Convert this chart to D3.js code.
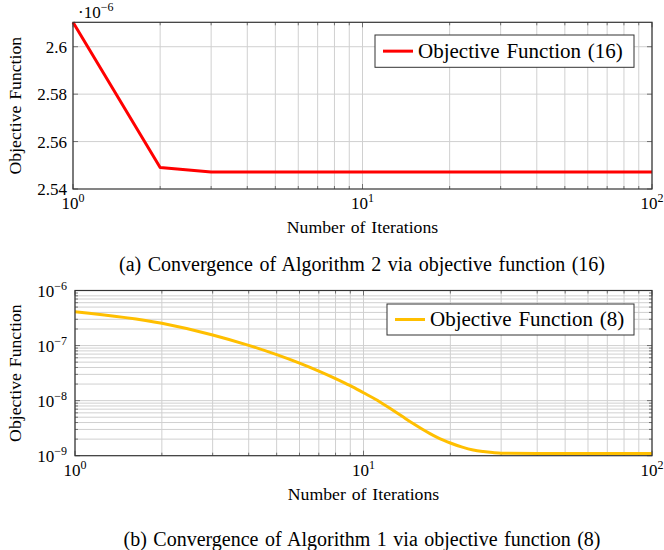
<!DOCTYPE html>
<html><head><meta charset="utf-8">
<script src="https://cdn.jsdelivr.net/npm/d3@7"></script>
<style>
body{margin:0;background:#fff;}
</style></head>
<body>
<svg id="c" width="664" height="550"></svg>
<script>
// ---- data ----
const iterA = [1, 2, 3, 4, 5, 10, 20, 50, 100];
const valA  = [2.6103, 2.5491, 2.5472, 2.5472, 2.5472, 2.5472, 2.5472, 2.5472, 2.5472]; // x1e-6
const yTicksA = [2.54, 2.56, 2.58, 2.6];
const yTickLabelsA = ["2.54", "2.56", "2.58", "2.6"];

const iterB = [1,2,3,4,5,6,7,8,9,10,11,12,13,14,15,16,17,18,19,20,22,24,26,28,30,40,50,60,70,80,90,100];
const valB  = [4.12e-7,2.54e-7,1.56e-7,1.01e-7,6.85e-8,4.81e-8,3.45e-8,2.52e-8,1.87e-8,1.39e-8,
               1.06e-8,8.0e-9,6.1e-9,4.7e-9,3.72e-9,3.02e-9,2.52e-9,2.16e-9,1.90e-9,1.70e-9,
               1.43e-9,1.27e-9,1.19e-9,1.14e-9,1.11e-9,1.10e-9,1.10e-9,1.10e-9,1.10e-9,1.10e-9,1.10e-9,1.10e-9];
const yDecadesB = [-9, -8, -7, -6];
const xDecades = [0, 1, 2];

const legendA = "Objective Function (16)";
const legendB = "Objective Function (8)";
const xLabel = "Number of Iterations";
const yLabel = "Objective Function";
const captionA = "(a) Convergence of Algorithm 2 via objective function (16)";
const captionB = "(b) Convergence of Algorithm 1 via objective function (8)";
const colorA = "#ff0000";
const colorB = "#ffbf00";

const FONT = "'Liberation Serif', 'Times New Roman', serif";
const svg = d3.select("#c");
const GRID = "#d0d0d0", FRAME = "#333";

function txt(sel){ return sel.append("text").style("font-family",FONT).attr("fill","#000"); }

function minorVals(lo, hi){ // 1..9 x 10^k
  const out=[];
  for(let k=lo;k<hi;k++) for(let m=1;m<10;m++) out.push(m*Math.pow(10,k));
  out.push(Math.pow(10,hi));
  return out;
}

function powLabel(g, x, y, exp, anchor){
  const t = txt(g).attr("x",x).attr("y",y).attr("text-anchor",anchor).style("font-size","17px");
  t.append("tspan").text("10");
  t.append("tspan").attr("dy",-7).style("font-size","12px").text(exp<0? "\u2212"+(-exp) : String(exp));
  return t;
}

function panel(o){
  const g = svg.append("g");
  const x = d3.scaleLog().domain([1,100]).range([o.L,o.R]);
  const y = o.y;
  const xs = minorVals(0,2);
  g.append("g").selectAll("line").data(xs).join("line")
    .attr("x1",d=>x(d)).attr("x2",d=>x(d)).attr("y1",o.T).attr("y2",o.B)
    .attr("stroke",GRID).attr("stroke-width",1);
  g.append("g").selectAll("line").data(o.yGrid).join("line")
    .attr("x1",o.L).attr("x2",o.R).attr("y1",d=>y(d)).attr("y2",d=>y(d))
    .attr("stroke",GRID).attr("stroke-width",1);
  const tk = g.append("g").attr("stroke","#555").attr("stroke-width",0.8);
  xs.forEach(d=>{
    const len = ([1,10,100].includes(d))?5:3;
    tk.append("line").attr("x1",x(d)).attr("x2",x(d)).attr("y1",o.B).attr("y2",o.B-len);
    tk.append("line").attr("x1",x(d)).attr("x2",x(d)).attr("y1",o.T).attr("y2",o.T+len);
  });
  o.yTicks.forEach(d=>{
    const len = o.isMajorY(d)?5:3;
    tk.append("line").attr("y1",y(d)).attr("y2",y(d)).attr("x1",o.L).attr("x2",o.L+len);
    tk.append("line").attr("y1",y(d)).attr("y2",y(d)).attr("x1",o.R).attr("x2",o.R-len);
  });
  g.append("path").datum(o.data)
    .attr("fill","none").attr("stroke",o.color).attr("stroke-width",3).attr("stroke-linejoin","round")
    .attr("d", d3.line().x(d=>x(d[0])).y(d=>y(d[1])).curve(o.curve));
  g.append("rect").attr("x",o.L).attr("y",o.T).attr("width",o.R-o.L).attr("height",o.B-o.T)
    .attr("fill","none").attr("stroke",FRAME).attr("stroke-width",1.2);
  xDecades.forEach(e=>powLabel(g, x(Math.pow(10,e)), o.B+20, e, "middle"));
  txt(g).attr("x",(o.L+o.R)/2).attr("y",o.B+44).attr("text-anchor","middle")
    .style("font-size","17.7px").style("word-spacing","1.5px").text(xLabel);
  txt(g).attr("transform",`translate(21,${(o.T+o.B)/2}) rotate(-90)`).attr("text-anchor","middle")
    .style("font-size","17.7px").style("word-spacing","1.5px").text(yLabel);
  const lg = g.append("g");
  lg.append("rect").attr("x",o.leg[0]).attr("y",o.leg[1]).attr("width",o.leg[2]-o.leg[0]).attr("height",o.leg[3]-o.leg[1])
    .attr("fill","#fff").attr("stroke",FRAME).attr("stroke-width",1);
  const ly = (o.leg[1]+o.leg[3])/2;
  lg.append("line").attr("x1",o.leg[0]+8).attr("x2",o.leg[0]+38).attr("y1",ly).attr("y2",ly)
    .attr("stroke",o.color).attr("stroke-width",3);
  txt(lg).attr("x",o.leg[0]+43).attr("y",ly+6.5).style("font-size","21px").style("word-spacing","1.5px").text(o.legend);
  txt(svg).attr("x",362).attr("y",o.capY).attr("text-anchor","middle").style("font-size","20px")
    .style("word-spacing","1.5px").text(o.caption);
  return {g,x,y};
}

// Panel A
const TA=22.3, BA=189;
const yA = d3.scaleLinear().domain([2.54,2.6103]).range([BA,TA]);
const pA = panel({L:73,R:652,T:TA,B:BA,y:yA,yGrid:yTicksA.slice(1),yTicks:yTicksA,isMajorY:()=>true,
  data:iterA.map((d,i)=>[d,valA[i]]),color:colorA,curve:d3.curveLinear,
  leg:[375,35,634,67.3],legend:legendA,caption:captionA,capY:271});
yTicksA.forEach((d,i)=>{
  txt(pA.g).attr("x",67).attr("y",yA(d)+6).attr("text-anchor","end").style("font-size","17px").text(yTickLabelsA[i]);
});
{ const t = txt(pA.g).attr("x",78).attr("y",17.5).style("font-size","17px");
  t.append("tspan").text("\u00b710");
  t.append("tspan").attr("dy",-6.5).style("font-size","12px").text("\u22126"); }

// Panel B
const TB=290.5, BB=455.7;
const yB = d3.scaleLog().domain([1e-9,1e-6]).range([BB,TB]);
const yMinB = minorVals(-9,-6);
const pB = panel({L:75,R:652,T:TB,B:BB,y:yB,yGrid:yMinB.filter(d=>d>1.5e-9&&d<0.9e-6),yTicks:yMinB,
  isMajorY:d=>Math.abs(Math.log10(d)-Math.round(Math.log10(d)))<1e-6,
  data:iterB.map((d,i)=>[d,valB[i]]),color:colorB,curve:d3.curveMonotoneX,
  leg:[387,304,634,335],legend:legendB,caption:captionB,capY:546});
yDecadesB.forEach(e=>powLabel(pB.g, 67, yB(Math.pow(10,e))+6, e, "end"));
</script>
</body></html>
